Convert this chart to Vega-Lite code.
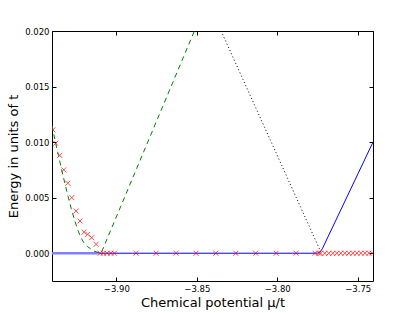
{
  "$schema": "https://vega.github.io/schema/vega-lite/v6.json",
  "width": 321,
  "height": 250,
  "autosize": "none",
  "padding": {"left": 52, "top": 31, "right": 42, "bottom": 32},
  "background": "white",
  "config": {
    "view": {"stroke": "#000000", "strokeWidth": 1},
    "font": "DejaVu Sans",
    "axis": {
      "domain": false,
      "grid": false,
      "tickColor": "#000000",
      "tickSize": -4,
      "labelPadding": 7,
      "labelFont": "DejaVu Sans",
      "labelFontSize": 8.5,
      "labelColor": "#000000",
      "titleFont": "DejaVu Sans",
      "titleFontSize": 13,
      "titleFontWeight": "normal",
      "titleColor": "#000000"
    }
  },
  "datasets": {
    "blue": [
      {"mu": -3.9105, "E": 0},
      {"mu": -3.775, "E": 0},
      {"mu": -3.7735, "E": 0.0001},
      {"mu": -3.772, "E": 0.0004},
      {"mu": -3.7405, "E": 0.01}
    ],
    "blueLight": [
      {"mu": -3.94, "E": 0},
      {"mu": -3.9105, "E": 0}
    ],
    "green": [
      {"mu": -3.94, "E": 0.0115},
      {"mu": -3.938, "E": 0.0101},
      {"mu": -3.936, "E": 0.0088},
      {"mu": -3.934, "E": 0.0075},
      {"mu": -3.932, "E": 0.0063},
      {"mu": -3.93, "E": 0.0051},
      {"mu": -3.928, "E": 0.004},
      {"mu": -3.926, "E": 0.003},
      {"mu": -3.924, "E": 0.0021},
      {"mu": -3.922, "E": 0.0014},
      {"mu": -3.92, "E": 0.0009},
      {"mu": -3.918, "E": 0.0006},
      {"mu": -3.916, "E": 0.0004},
      {"mu": -3.914, "E": 0.0002},
      {"mu": -3.912, "E": 0.0001},
      {"mu": -3.9095, "E": 0.0},
      {"mu": -3.8515, "E": 0.02}
    ],
    "black": [
      {"mu": -3.8349, "E": 0.02},
      {"mu": -3.7732, "E": 0.0002}
    ],
    "red": [
      {"mu": -3.9395, "E": 0.0111},
      {"mu": -3.9377, "E": 0.0099},
      {"mu": -3.9352, "E": 0.0088},
      {"mu": -3.9327, "E": 0.0075},
      {"mu": -3.9302, "E": 0.0063},
      {"mu": -3.9277, "E": 0.005},
      {"mu": -3.925, "E": 0.0038},
      {"mu": -3.9226, "E": 0.0029},
      {"mu": -3.9201, "E": 0.0019},
      {"mu": -3.9178, "E": 0.0017},
      {"mu": -3.9153, "E": 0.0014},
      {"mu": -3.9126, "E": 0.0008},
      {"mu": -3.9101, "E": 0},
      {"mu": -3.9081, "E": 0},
      {"mu": -3.9058, "E": 0},
      {"mu": -3.9035, "E": 0},
      {"mu": -3.9012, "E": 0},
      {"mu": -3.8878, "E": 0},
      {"mu": -3.8753, "E": 0},
      {"mu": -3.8629, "E": 0},
      {"mu": -3.8505, "E": 0},
      {"mu": -3.8382, "E": 0},
      {"mu": -3.8258, "E": 0},
      {"mu": -3.8134, "E": 0},
      {"mu": -3.8007, "E": 0},
      {"mu": -3.7883, "E": 0},
      {"mu": -3.7765, "E": 0},
      {"mu": -3.7741, "E": 0},
      {"mu": -3.773, "E": 0},
      {"mu": -3.7705, "E": 0},
      {"mu": -3.768, "E": 0},
      {"mu": -3.7655, "E": 0},
      {"mu": -3.763, "E": 0},
      {"mu": -3.7605, "E": 0},
      {"mu": -3.758, "E": 0},
      {"mu": -3.7555, "E": 0},
      {"mu": -3.753, "E": 0},
      {"mu": -3.7505, "E": 0},
      {"mu": -3.748, "E": 0},
      {"mu": -3.7455, "E": 0},
      {"mu": -3.743, "E": 0},
      {"mu": -3.741, "E": 0}
    ]
  },
  "layer": [
    {
      "data": {"name": "blueLight"},
      "mark": {"type": "line", "color": "#8080ff", "strokeWidth": 2.5, "clip": true},
      "encoding": {
        "x": {"field": "mu", "type": "quantitative", "scale": {"domain": [-3.94, -3.7405], "zero": false, "nice": false},
          "axis": {"orient": "bottom", "title": "Chemical potential μ/t", "values": [-3.9, -3.85, -3.8, -3.75], "format": ".2f", "titlePadding": 4}},
        "y": {"field": "E", "type": "quantitative", "scale": {"domain": [-0.0025, 0.02], "zero": false, "nice": false},
          "axis": {"orient": "left", "title": "Energy in units of t", "values": [0, 0.005, 0.01, 0.015, 0.02], "format": ".3f", "titlePadding": 4}}
      }
    },
    {
      "data": {"name": "blue"},
      "mark": {"type": "line", "color": "#0000ff", "strokeWidth": 1, "clip": true},
      "encoding": {
        "x": {"field": "mu", "type": "quantitative", "scale": {"domain": [-3.94, -3.7405], "zero": false, "nice": false}, "axis": null},
        "y": {"field": "E", "type": "quantitative", "scale": {"domain": [-0.0025, 0.02], "zero": false, "nice": false}, "axis": null}
      }
    },
    {
      "data": {"name": "green"},
      "mark": {"type": "line", "color": "#008000", "strokeWidth": 1, "strokeDash": [5, 4], "clip": true},
      "encoding": {
        "x": {"field": "mu", "type": "quantitative", "scale": {"domain": [-3.94, -3.7405], "zero": false, "nice": false}, "axis": null},
        "y": {"field": "E", "type": "quantitative", "scale": {"domain": [-0.0025, 0.02], "zero": false, "nice": false}, "axis": null}
      }
    },
    {
      "data": {"name": "black"},
      "mark": {"type": "line", "color": "#000000", "strokeWidth": 1, "strokeDash": [1, 2.5], "clip": true},
      "encoding": {
        "x": {"field": "mu", "type": "quantitative", "scale": {"domain": [-3.94, -3.7405], "zero": false, "nice": false}, "axis": null},
        "y": {"field": "E", "type": "quantitative", "scale": {"domain": [-0.0025, 0.02], "zero": false, "nice": false}, "axis": null}
      }
    },
    {
      "data": {"name": "red"},
      "mark": {"type": "point", "shape": "M-1,-1L1,1M-1,1L1,-1", "filled": false, "stroke": "#ff0000", "strokeWidth": 1, "opacity": 0.7, "size": 25, "clip": true},
      "encoding": {
        "x": {"field": "mu", "type": "quantitative", "scale": {"domain": [-3.94, -3.7405], "zero": false, "nice": false}, "axis": null},
        "y": {"field": "E", "type": "quantitative", "scale": {"domain": [-0.0025, 0.02], "zero": false, "nice": false}, "axis": null}
      }
    },
    {
      "data": {"name": "red"},
      "mark": {"type": "point", "opacity": 0},
      "encoding": {
        "x": {"field": "mu", "type": "quantitative", "scale": {"domain": [-3.94, -3.7405], "zero": false, "nice": false},
          "axis": {"orient": "top", "title": null, "labels": false, "values": [-3.9, -3.85, -3.8, -3.75]}},
        "y": {"field": "E", "type": "quantitative", "scale": {"domain": [-0.0025, 0.02], "zero": false, "nice": false},
          "axis": {"orient": "right", "title": null, "labels": false, "values": [0, 0.005, 0.01, 0.015, 0.02]}}
      }
    }
  ],
  "resolve": {"axis": {"x": "independent", "y": "independent"}}
}
